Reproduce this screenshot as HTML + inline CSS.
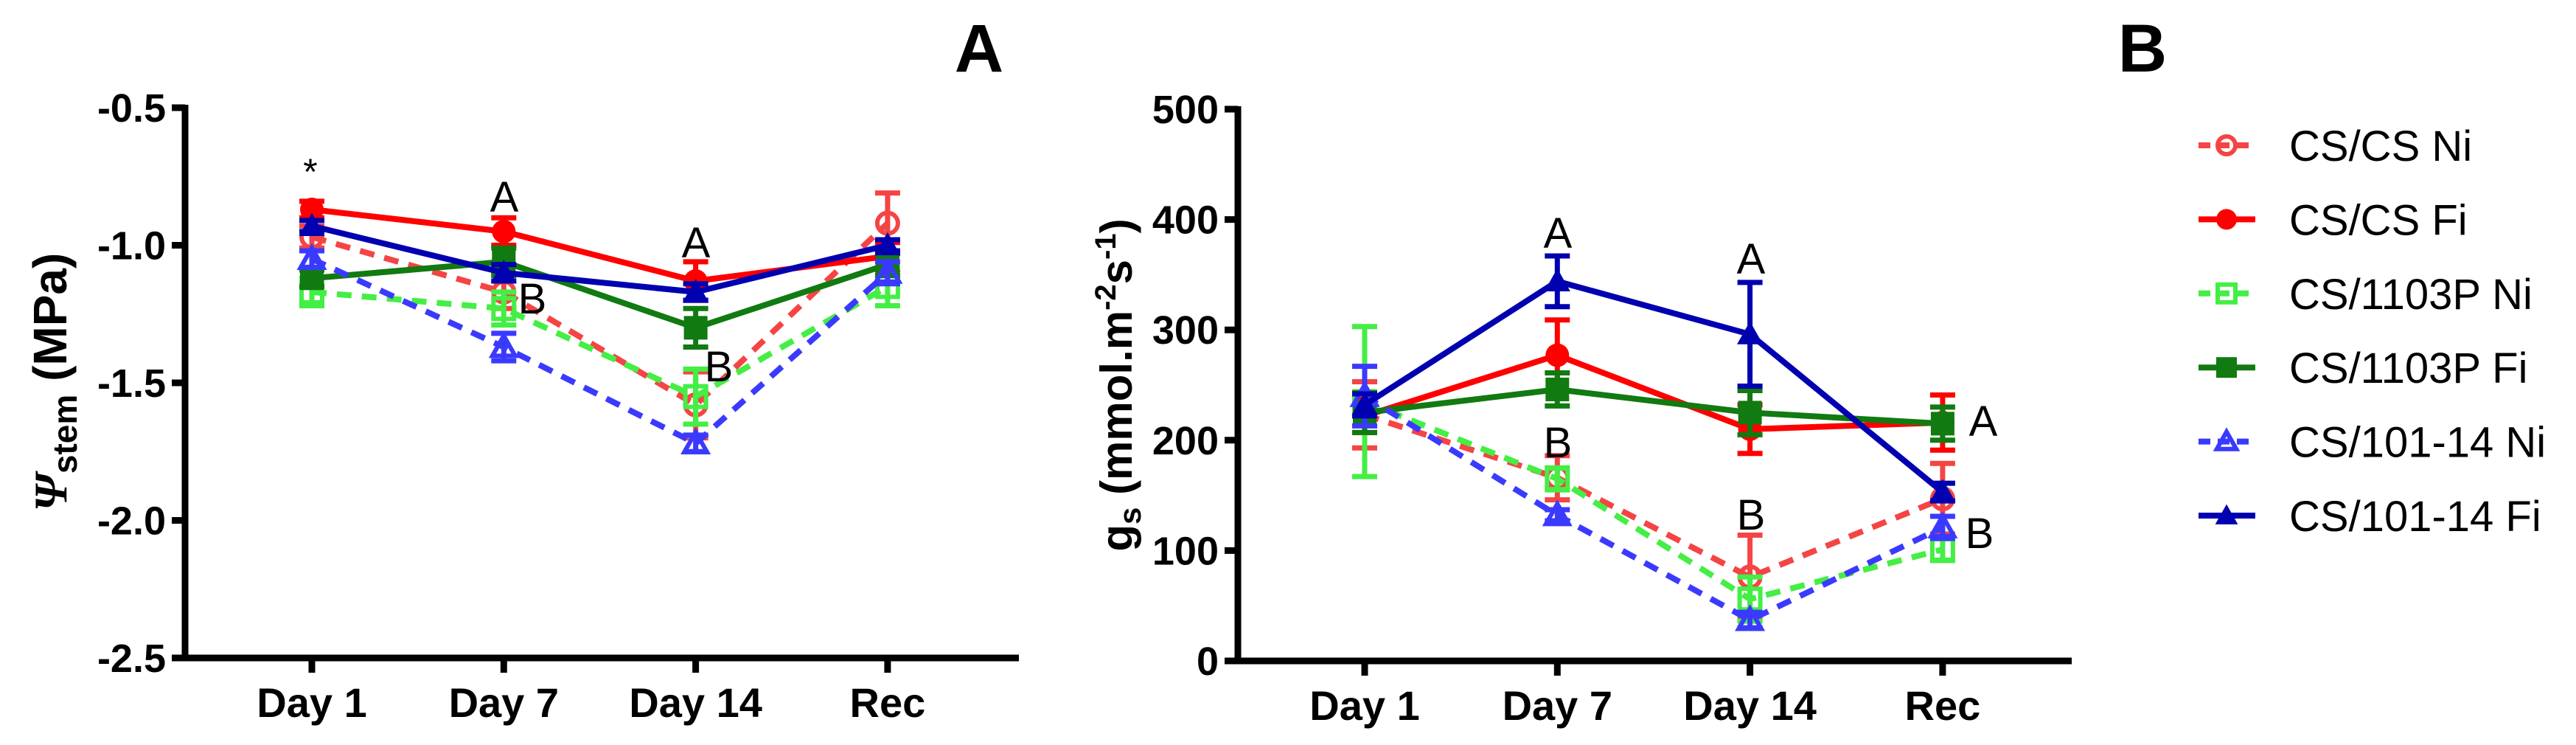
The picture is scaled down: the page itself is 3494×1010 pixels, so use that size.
<!DOCTYPE html>
<html><head><meta charset="utf-8"><style>
html,body{margin:0;padding:0;background:#fff;}
svg{display:block;font-family:"Liberation Sans",Arial,sans-serif;}
</style></head><body>
<svg id="chart" width="3494" height="1010" viewBox="0 0 3494 1010"></svg>
<script>
const categories = ["Day 1","Day 7","Day 14","Rec"];
const seriesNames = ["CS/CS Ni","CS/CS Fi","CS/1103P Ni","CS/1103P Fi","CS/101-14 Ni","CS/101-14 Fi"];
// Panel A: stem water potential (MPa)
const psiCSCSNi = [-0.97,-1.17,-1.58,-0.92];
const psiCSCSNiErr = [0.04,0.06,0.12,0.11];
const psiCSCSFi = [-0.87,-0.95,-1.13,-1.04];
const psiCSCSFiErr = [0.03,0.05,0.07,0.05];
const psi1103Ni = [-1.17,-1.23,-1.55,-1.15];
const psi1103NiErr = [0.05,0.06,0.1,0.07];
const psi1103Fi = [-1.12,-1.06,-1.30,-1.07];
const psi1103FiErr = [0.03,0.05,0.07,0.04];
const psi10114Ni = [-1.05,-1.37,-1.72,-1.1];
const psi10114NiErr = [0.03,0.05,0.03,0.04];
const psi10114Fi = [-0.93,-1.10,-1.17,-1.00];
const psi10114FiErr = [0.02,0.03,0.03,0.02];
const psiTicks = [-0.5,-1.0,-1.5,-2.0,-2.5];
const psiTickLabels = ["-0.5","-1.0","-1.5","-2.0","-2.5"];
// Panel B: stomatal conductance
const gsCSCSNi = [223,166,76,147];
const gsCSCSNiErr = [30,20,38,32];
const gsCSCSFi = [222,277,210,216];
const gsCSCSFiErr = [15,32,22,25];
const gs1103Ni = [235,165,56,101];
const gs1103NiErr = [68,10,20,10];
const gs1103Fi = [225,246,225,215];
const gs1103FiErr = [18,15,20,15];
const gs10114Ni = [240,132,37,121];
const gs10114NiErr = [27,5,7,10];
const gs10114Fi = [232,344,296,153];
const gs10114FiErr = [10,23,47,8];
const gsTicks = [0,100,200,300,400,500];
const gsTickLabels = ["0","100","200","300","400","500"];

const NS="http://www.w3.org/2000/svg";
const svg=document.getElementById('chart');
function mk(tag,attrs,parent){const e=document.createElementNS(NS,tag);for(const k in attrs)e.setAttribute(k,attrs[k]);(parent||svg).appendChild(e);return e;}

const styles=[
 {c:"#f54444",dash:true,m:"circle",open:true},
 {c:"#ff0000",dash:false,m:"circle",open:false},
 {c:"#44ee44",dash:true,m:"square",open:true},
 {c:"#117a11",dash:false,m:"square",open:false},
 {c:"#3a3aff",dash:true,m:"tri",open:true},
 {c:"#0000b0",dash:false,m:"tri",open:false}
];

function marker(g,type,x,y,col,open,s){
  const sw=open?6:0, fill=open?"none":col;
  let e;
  if(type==="circle") e=mk('circle',{cx:x,cy:y,r:s,fill:fill,stroke:col,'stroke-width':sw},g);
  else if(type==="square") e=mk('rect',{x:x-s,y:y-s,width:2*s,height:2*s,fill:fill,stroke:col,'stroke-width':sw},g);
  else e=mk('polygon',{points:`${x},${y-s*1.1} ${x-s*1.1},${y+s*0.85} ${x+s*1.1},${y+s*0.85}`,fill:fill,stroke:col,'stroke-width':sw},g);
  return e;
}

function panel(cfg){
  const g=mk('g',{});
  
  
  const xs=i=>cfg.x0+i*cfg.dx;
  const ys=v=>cfg.yTop+(v-cfg.vTop)/(cfg.vBot-cfg.vTop)*(cfg.yBot-cfg.yTop);
  const ya=mk('line',{x1:cfg.ax,y1:cfg.yTop-4,x2:cfg.ax,y2:cfg.yBot+4,stroke:"#000",'stroke-width':9},g);
  
  const xa=mk('line',{x1:cfg.ax-4,y1:cfg.yBot,x2:cfg.axEnd,y2:cfg.yBot,stroke:"#000",'stroke-width':9},g);
  
  cfg.ticks.forEach((t,i)=>{
    const y=ys(t);
    mk('line',{x1:cfg.ax-18,y1:y,x2:cfg.ax,y2:y,stroke:"#000",'stroke-width':9},g);
    const tx=mk('text',{x:cfg.ax-26,y:y+19,'text-anchor':'end','font-size':54,'font-weight':'bold'},g);
    tx.textContent=cfg.tickLabels[i];
    
    
  });
  categories.forEach((c,i)=>{
    const x=xs(i);
    mk('line',{x1:x,y1:cfg.yBot,x2:x,y2:cfg.yBot+20,stroke:"#000",'stroke-width':9},g);
    const tx=mk('text',{x:x,y:cfg.yBot+80,'text-anchor':'middle','font-size':56,'font-weight':'bold'},g);
    tx.textContent=c;
    
    
  });
  cfg.data.forEach((d,si)=>{
    const st=styles[si];
    const sg=mk('g',{},g);
    
    
    const pts=d.v.map((v,i)=>xs(i)+","+ys(v)).join(" ");
    const ln=mk('polyline',{points:pts,fill:'none',stroke:st.c,'stroke-width':8,'stroke-dasharray':st.dash?"20 14":"none",'stroke-linejoin':'round'},sg);
    
    
    d.v.forEach((v,i)=>{
      const x=xs(i),e=d.e[i];
      const eb=mk('path',{d:`M${x},${ys(v-e)}V${ys(v+e)}M${x-17},${ys(v-e)}H${x+17}M${x-17},${ys(v+e)}H${x+17}`,stroke:st.c,'stroke-width':7,fill:'none'},sg);
      
      
      const m=marker(sg,st.m,x,ys(v),st.c,st.open,st.open?14:16);
      
      
    });
  });
  cfg.notes.forEach(n=>{
    const tx=mk('text',{x:n.x,y:n.y,'text-anchor':'middle','font-size':n.s||58},g);
    tx.textContent=n.t;
    
    
  });
}

panel({name:'panel-a-chart',ax:251,axEnd:1382,yTop:146,yBot:892,vTop:-0.5,vBot:-2.5,x0:423,dx:260.3,
  ticks:psiTicks,tickLabels:psiTickLabels,
  data:[{v:psiCSCSNi,e:psiCSCSNiErr},{v:psiCSCSFi,e:psiCSCSFiErr},{v:psi1103Ni,e:psi1103NiErr},{v:psi1103Fi,e:psi1103FiErr},{v:psi10114Ni,e:psi10114NiErr},{v:psi10114Fi,e:psi10114FiErr}],
  notes:[{t:"*",x:421,y:250,s:50},{t:"A",x:684,y:287},{t:"B",x:722,y:425},{t:"A",x:944,y:349},{t:"B",x:975,y:517}]});
panel({name:'panel-b-chart',ax:1679,axEnd:2810,yTop:148,yBot:896,vTop:500,vBot:0,x0:1851,dx:261.3,
  ticks:gsTicks,tickLabels:gsTickLabels,
  data:[{v:gsCSCSNi,e:gsCSCSNiErr},{v:gsCSCSFi,e:gsCSCSFiErr},{v:gs1103Ni,e:gs1103NiErr},{v:gs1103Fi,e:gs1103FiErr},{v:gs10114Ni,e:gs10114NiErr},{v:gs10114Fi,e:gs10114FiErr}],
  notes:[{t:"A",x:2113,y:336},{t:"B",x:2113,y:620},{t:"A",x:2375,y:371},{t:"B",x:2375,y:718},{t:"A",x:2690,y:591},{t:"B",x:2685,y:743}]});

seriesNames.forEach((n,i)=>{
  const st=styles[i], y=197+i*100.4;
  const lg=mk('g',{});
  
  
  mk('line',{x1:2982,y1:y,x2:3059,y2:y,stroke:st.c,'stroke-width':8,'stroke-dasharray':st.dash?"16 10":"none"},lg);
  marker(lg,st.m,3020,y,st.c,st.open,st.open?12:14);
  const t=mk('text',{x:3105,y:y+21,'font-size':58},lg);
  t.textContent=n;
});
</script>
<div style="position:absolute;left:0;top:0;width:0;height:0">
<svg width="3494" height="1010" style="position:absolute;left:0;top:0;overflow:visible;font-family:'Liberation Sans',Arial,sans-serif">
 <text x="1328" y="97" font-size="92" font-weight="bold" text-anchor="middle">A</text>
 <text x="2906" y="97" font-size="92" font-weight="bold" text-anchor="middle">B</text>
 <text transform="translate(90,518) rotate(-90)" text-anchor="middle" font-size="64" font-weight="bold"><tspan font-family="'Liberation Serif',serif" font-style="italic">Ψ</tspan><tspan font-size="46" dy="14">stem</tspan><tspan dy="-14"> (MPa)</tspan></text>
 <text transform="translate(1535,522) rotate(-90)" text-anchor="middle" font-size="60" font-weight="bold">g<tspan font-size="42" dy="12">s</tspan><tspan dy="-12"> (mmol.m</tspan><tspan font-size="40" dy="-22">-2</tspan><tspan dy="22">s</tspan><tspan font-size="40" dy="-22">-1</tspan><tspan dy="22">)</tspan></text>
</svg></div>
</body></html>
